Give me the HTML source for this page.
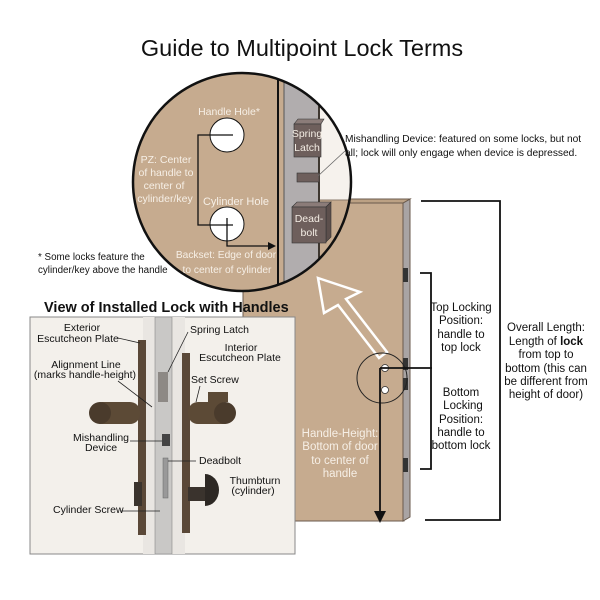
<!DOCTYPE html>
<html><head><meta charset="utf-8"><style>
html,body{margin:0;padding:0;background:#fff;}
svg{display:block;font-family:"Liberation Sans","DejaVu Sans",sans-serif;}
</style></head><body>
<svg width="600" height="600" viewBox="0 0 600 600" xmlns="http://www.w3.org/2000/svg">
<rect width="600" height="600" fill="#fff"/>
<text x="302" y="56" text-anchor="middle" font-size="23.5" fill="#111">Guide to Multipoint Lock Terms</text>

<!-- Door -->
<rect x="243" y="203" width="161" height="318" fill="#c6ab8f" stroke="#6a5a4c" stroke-width="1"/>
<polygon points="403,203 410,199 410,517 403,521" fill="#a9a4a4" stroke="#6a5a4c" stroke-width="1"/>
<polygon points="243,203 250,199 410,199 403,203" fill="#bca184" stroke="#6a5a4c" stroke-width="1"/>
<rect x="403" y="268" width="5" height="14" fill="#333"/>
<rect x="403" y="458" width="5" height="14" fill="#333"/>
<rect x="403" y="358" width="5" height="12" fill="#333"/>
<rect x="403" y="378" width="5" height="12" fill="#333"/>

<polygon points="318,278 360,292 346,299 387,352 379,358 338,305 324,313" fill="none" stroke="#fff" stroke-width="2.5" stroke-linejoin="miter"/>

<circle cx="382" cy="378" r="25" fill="none" stroke="#222" stroke-width="1"/>
<circle cx="385" cy="368" r="3.5" fill="#fff" stroke="#333" stroke-width="0.8"/>
<circle cx="385" cy="390" r="3.5" fill="#fff" stroke="#333" stroke-width="0.8"/>
<line x1="380" y1="368" x2="432" y2="368" stroke="#111" stroke-width="1.8"/>
<line x1="380" y1="368" x2="380" y2="512" stroke="#111" stroke-width="1.8"/>
<polygon points="374,511 386,511 380,523" fill="#111"/>
<text fill="#f6efe6" font-size="11.5" text-anchor="middle"><tspan x="340" y="437">Handle-Height:</tspan><tspan x="340" y="450">Bottom of door</tspan><tspan x="340" y="464">to center of</tspan><tspan x="340" y="477">handle</tspan></text>

<polyline points="420,273 431,273 431,469 420,469" fill="none" stroke="#111" stroke-width="1.8"/>
<polyline points="421,201 500,201 500,520 425,520" fill="none" stroke="#111" stroke-width="1.8"/>
<text fill="#111" font-size="11.5" text-anchor="middle"><tspan x="461" y="311">Top Locking</tspan><tspan x="461" y="324">Position:</tspan><tspan x="461" y="338">handle to</tspan><tspan x="461" y="351">top lock</tspan></text>
<text fill="#111" font-size="11.5" text-anchor="middle"><tspan x="461" y="396">Bottom</tspan><tspan x="463" y="409">Locking</tspan><tspan x="461" y="423">Position:</tspan><tspan x="461" y="436">handle to</tspan><tspan x="461" y="449">bottom lock</tspan></text>
<text fill="#111" font-size="11.5" text-anchor="middle"><tspan x="546" y="331">Overall Length:</tspan><tspan x="546" y="345">Length of <tspan font-weight="bold">lock</tspan></tspan><tspan x="546" y="358">from top to</tspan><tspan x="546" y="372">bottom (this can</tspan><tspan x="546" y="385">be different from</tspan><tspan x="546" y="398">height of door)</tspan></text>

<defs><clipPath id="cc"><circle cx="242" cy="182" r="109"/></clipPath></defs>
<g clip-path="url(#cc)">
<rect x="120" y="60" width="250" height="250" fill="#c6ab8f"/>
<rect x="320" y="60" width="60" height="140" fill="#f6f2ed"/>
<rect x="320" y="200" width="60" height="120" fill="#c6ab8f"/>
<line x1="320" y1="200" x2="380" y2="200" stroke="#8a7a6a" stroke-width="1"/>
<rect x="279" y="60" width="5" height="260" fill="#c6ab8f"/>
<rect x="284" y="60" width="34" height="260" fill="#b1adae"/>
<line x1="278" y1="60" x2="278" y2="320" stroke="#111" stroke-width="2"/>
<line x1="284" y1="60" x2="284" y2="320" stroke="#555" stroke-width="1"/>
<line x1="319" y1="60" x2="319" y2="320" stroke="#111" stroke-width="1.5"/>
</g>
<circle cx="242" cy="182" r="109" fill="none" stroke="#111" stroke-width="2.5"/>
<polygon points="294,124 298,119 324,119 321,124" fill="#8b7c79" stroke="#333" stroke-width="0.6"/>
<rect x="294" y="124" width="27" height="33" fill="#6e5f5c" stroke="#333" stroke-width="0.6"/>
<text fill="#f4ede4" font-size="10.5" text-anchor="middle"><tspan x="307" y="137">Spring</tspan><tspan x="307" y="151">Latch</tspan></text>
<rect x="297" y="173" width="22" height="9" fill="#6e5f5c" stroke="#333" stroke-width="0.6"/>
<polygon points="292,207 297,202 331,202 326,207" fill="#8b7c79" stroke="#333" stroke-width="0.6"/>
<polygon points="326,207 331,202 331,237 326,242" fill="#5c4f4c" stroke="#333" stroke-width="0.6"/>
<rect x="292" y="207" width="34" height="36" fill="#6e5f5c" stroke="#333" stroke-width="0.6"/>
<text fill="#f4ede4" font-size="10.5" text-anchor="middle"><tspan x="309" y="222">Dead-</tspan><tspan x="309" y="236">bolt</tspan></text>
<line x1="318" y1="176" x2="345" y2="151" stroke="#666" stroke-width="0.8"/>
<text fill="#111" font-size="10.2"><tspan x="345" y="142">Mishandling Device: featured on some locks, but not</tspan><tspan x="345" y="156">all; lock will only engage when device is depressed.</tspan></text>

<text x="229" y="115" fill="#f6efe6" font-size="10.5" text-anchor="middle">Handle Hole*</text>
<circle cx="227" cy="135" r="17" fill="#fff" stroke="#111" stroke-width="1"/>
<text x="236" y="205" fill="#f6efe6" font-size="11" text-anchor="middle">Cylinder Hole</text>
<circle cx="227" cy="224" r="17" fill="#fff" stroke="#111" stroke-width="1"/>
<polyline points="233,135 198,135 198,225 233,225" fill="none" stroke="#111" stroke-width="1.3"/>
<polyline points="227,218 227,246 270,246" fill="none" stroke="#111" stroke-width="1.3"/>
<polygon points="268,242 276,246 268,250" fill="#111"/>
<text fill="#f6efe6" font-size="10.5" text-anchor="middle"><tspan x="166" y="163">PZ: Center</tspan><tspan x="166" y="176">of handle to</tspan><tspan x="164" y="189">center of</tspan><tspan x="165" y="202">cylinder/key</tspan></text>
<text fill="#f6efe6" font-size="10.2" text-anchor="middle"><tspan x="226" y="258">Backset: Edge of door</tspan><tspan x="227" y="273">to center of cylinder</tspan></text>

<text fill="#111" font-size="9.8"><tspan x="38" y="260">* Some locks feature the</tspan><tspan x="38" y="273">cylinder/key above the handle</tspan></text>

<text x="44" y="312" fill="#111" font-size="14.5" font-weight="bold">View of Installed Lock with Handles</text>

<rect x="30" y="317" width="265" height="237" fill="#f3f0eb" stroke="#888" stroke-width="1"/>
<rect x="143" y="317" width="42" height="237" fill="#e9e6e2"/>
<rect x="138" y="340" width="8" height="195" fill="#5a4838"/>
<rect x="182" y="353" width="8" height="180" fill="#5a4838"/>
<rect x="155" y="317" width="17" height="237" fill="#c9c8c6" stroke="#888" stroke-width="0.6"/>
<rect x="158" y="372" width="10" height="30" fill="#8d8985"/>
<rect x="162" y="434" width="8" height="12" fill="#444"/>
<rect x="163" y="458" width="5" height="40" fill="#999" stroke="#666" stroke-width="0.5"/>
<rect x="92" y="402" width="48" height="22" rx="10" fill="#5c4a36"/>
<circle cx="100" cy="413" r="11" fill="#4a3b2c"/>
<rect x="188" y="402" width="45" height="22" rx="10" fill="#5c4a36"/>
<circle cx="225" cy="413" r="11" fill="#4a3b2c"/>
<rect x="208" y="392" width="20" height="10" fill="#5c4a36"/>
<rect x="188" y="487" width="18" height="14" fill="#3a332d"/>
<path d="M205,474 A14,16 0 0 1 205,506 Z" fill="#2d2824"/>
<rect x="134" y="482" width="8" height="24" fill="#3a332d"/>

<g fill="#111" font-size="10.5">
<text text-anchor="middle"><tspan x="82" y="331">Exterior</tspan><tspan x="78" y="342">Escutcheon Plate</tspan></text>
<line x1="118" y1="338" x2="140" y2="343" stroke="#222" stroke-width="0.8"/>
<text x="190" y="333">Spring Latch</text>
<line x1="188" y1="332" x2="168" y2="372" stroke="#222" stroke-width="0.8"/>
<text text-anchor="middle"><tspan x="241" y="351">Interior</tspan><tspan x="240" y="361">Escutcheon Plate</tspan></text>
<text text-anchor="middle"><tspan x="86" y="368">Alignment Line</tspan><tspan x="85" y="378">(marks handle-height)</tspan></text>
<line x1="118" y1="381" x2="152" y2="407" stroke="#222" stroke-width="0.8"/>
<text x="191" y="383">Set Screw</text>
<line x1="200" y1="386" x2="196" y2="402" stroke="#222" stroke-width="0.8"/>
<text text-anchor="middle"><tspan x="101" y="441">Mishandling</tspan><tspan x="101" y="451">Device</tspan></text>
<line x1="130" y1="441" x2="162" y2="441" stroke="#222" stroke-width="0.8"/>
<text x="199" y="464">Deadbolt</text>
<line x1="168" y1="461" x2="196" y2="461" stroke="#222" stroke-width="0.8"/>
<text text-anchor="middle"><tspan x="255" y="484">Thumbturn</tspan><tspan x="253" y="494">(cylinder)</tspan></text>
<text x="53" y="513">Cylinder Screw</text>
<line x1="120" y1="511" x2="160" y2="511" stroke="#222" stroke-width="0.8"/>
</g>
</svg>
</body></html>
